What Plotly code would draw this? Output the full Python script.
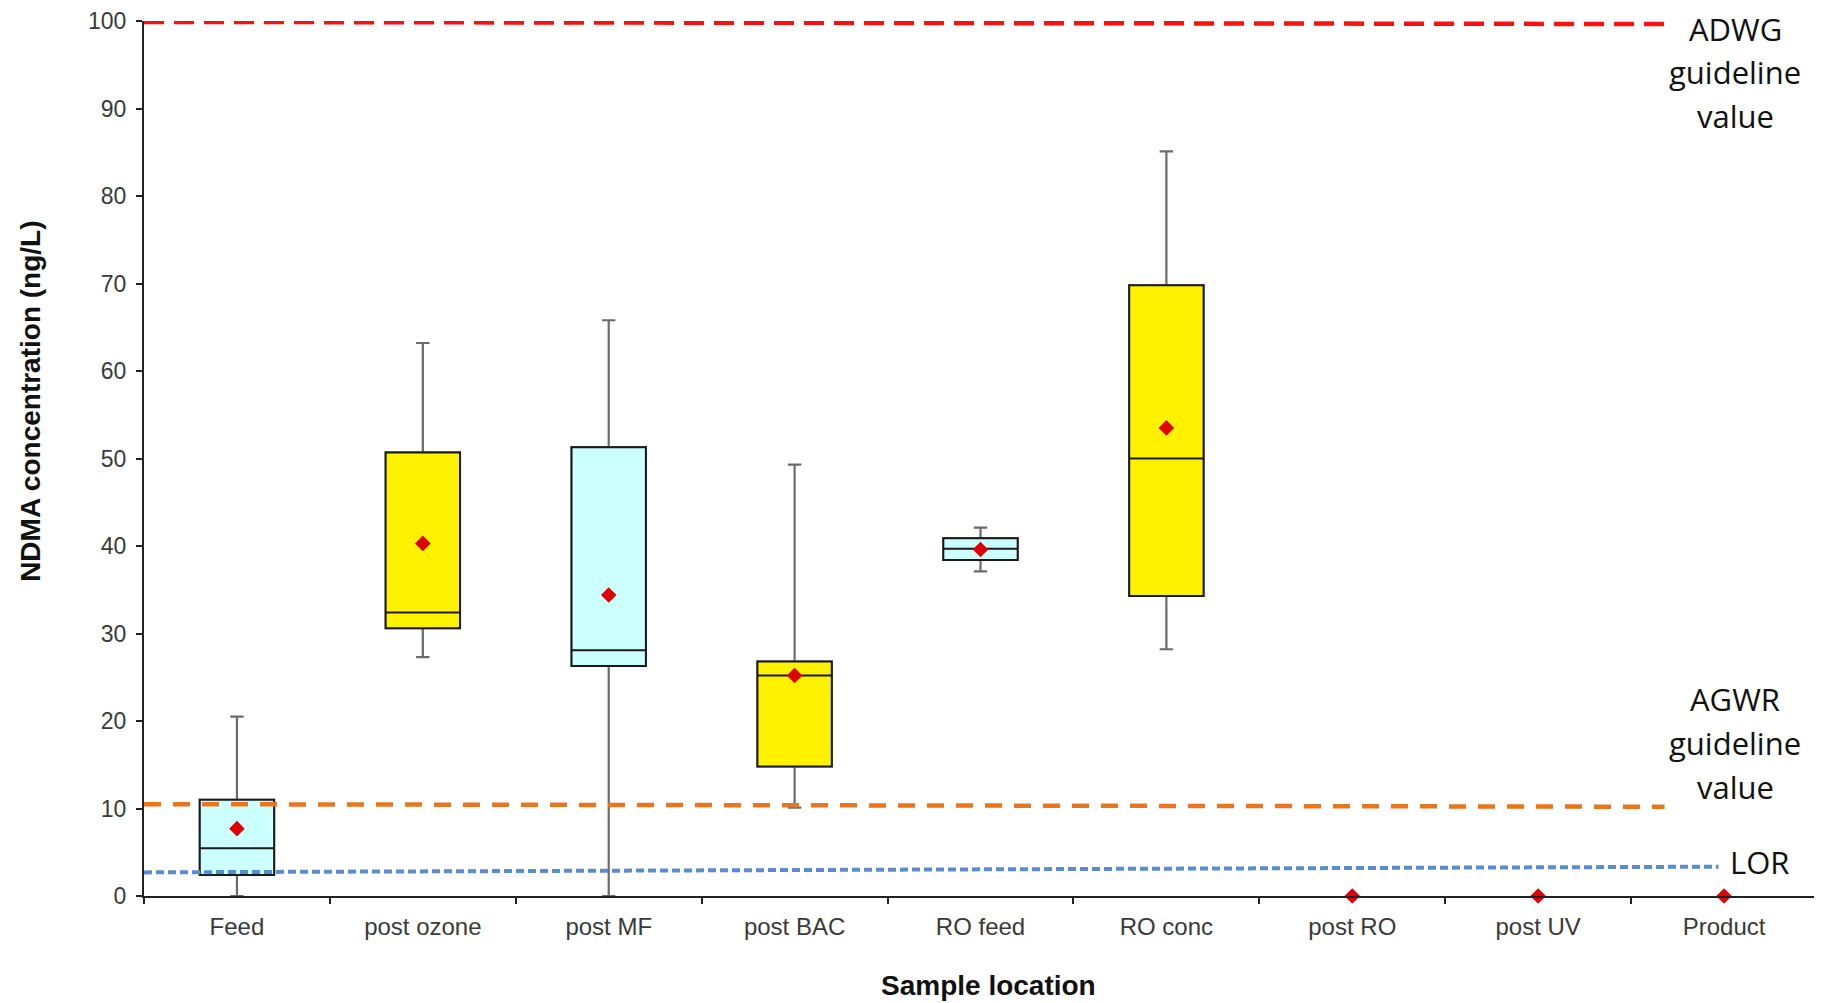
import plotly.graph_objects as go

# ---------------- data ----------------
categories = ["Feed", "post ozone", "post MF", "post BAC", "RO feed",
              "RO conc", "post RO", "post UV", "Product"]

box_cats   = ["Feed", "post ozone", "post MF", "post BAC", "RO feed", "RO conc"]
box_lower  = [0.0, 27.3, 0.0, 10.1, 37.1, 28.2]
box_q1     = [2.4, 30.6, 26.3, 14.8, 38.4, 34.3]
box_median = [5.45, 32.4, 28.1, 25.2, 39.7, 50.0]
box_q3     = [11.0, 50.7, 51.3, 26.8, 40.9, 69.8]
box_upper  = [20.5, 63.2, 65.8, 49.3, 42.1, 85.1]
box_colors = ["#CCFFFF", "#FFF200", "#CCFFFF", "#FFF200", "#CCFFFF", "#FFF200"]

mean_cats   = ["Feed", "post ozone", "post MF", "post BAC", "RO feed",
               "RO conc", "post RO", "post UV", "Product"]
mean_values = [7.7, 40.3, 34.4, 25.2, 39.6, 53.5, 0.0, 0.0, 0.0]

# guideline lines (hand drawn in the original: slight slope)
guide_names   = ["ADWG", "AGWR", "LOR"]
guide_y_start = [99.9, 10.5, 2.7]
guide_y_end   = [99.65, 10.2, 3.35]
guide_x_end   = [7.68, 7.68, 7.97]
guide_colors  = ["#FF1010", "#E8761E", "#5B8BD0"]
guide_dash    = ["20px,10px", "17px,12px", "8px,4px"]
guide_width   = [4.5, 4.5, 4]

# right-side labels
label_lines = ["ADWG", "guideline", "value", "AGWR", "guideline", "value", "LOR"]
label_x     = [8.06, 8.06, 8.06, 8.06, 8.06, 8.06, 8.19]
label_y     = [99.1, 94.2, 89.1, 22.5, 17.5, 12.5, 3.9]

y_ticks = list(range(0, 101, 10))

# ---------------- figure ----------------
fig = go.Figure()

y_tick_font = dict(family="Liberation Sans, Arial, sans-serif", size=23, color="#3a3a3a")
x_tick_font = dict(family="Liberation Sans, Arial, sans-serif", size=24, color="#3a3a3a")

for i, c in enumerate(box_cats):
    # whiskers (gray)
    fig.add_trace(go.Box(
        x=[c], q1=[box_q1[i]], median=[box_median[i]], q3=[box_q3[i]],
        lowerfence=[box_lower[i]], upperfence=[box_upper[i]],
        width=0.4, whiskerwidth=0.18, boxpoints=False,
        fillcolor=box_colors[i], line=dict(color="#6b6b6b", width=2.2),
        showlegend=False, hoverinfo="skip"))
    # box body (black outline)
    fig.add_trace(go.Box(
        x=[c], q1=[box_q1[i]], median=[box_median[i]], q3=[box_q3[i]],
        lowerfence=[box_q1[i]], upperfence=[box_q3[i]],
        width=0.4, whiskerwidth=0.0, boxpoints=False,
        fillcolor=box_colors[i], line=dict(color="#1a1a1a", width=2),
        showlegend=False))

fig.add_trace(go.Scatter(
    x=mean_cats, y=mean_values, mode="markers",
    marker=dict(symbol="diamond", size=12, color="#E00000"),
    cliponaxis=False, showlegend=False))

for i, n in enumerate(guide_names):
    fig.add_shape(type="line", xref="x", yref="y",
                  x0=-0.5, x1=guide_x_end[i], y0=guide_y_start[i], y1=guide_y_end[i],
                  line=dict(color=guide_colors[i], width=guide_width[i], dash=guide_dash[i]),
                  layer="above")

for t, x, y in zip(label_lines, label_x, label_y):
    fig.add_annotation(x=x, y=y, xref="x", yref="y", text=t, showarrow=False,
                       xanchor="center", yanchor="middle",
                       font=dict(family="Open Sans, sans-serif", size=31, color="#111111"))

# y-axis title (placed above centre, as in the original)
fig.add_annotation(x=-0.068, y=0.565, xref="paper", yref="paper",
                   text="<b>NDMA concentration (ng/L)</b>", textangle=-90,
                   showarrow=False, xanchor="center", yanchor="middle",
                   font=dict(family="Liberation Sans, Arial, sans-serif", size=28, color="#111111"))

# x-axis title (slightly right of centre, as in the original)
fig.add_annotation(x=0.505, y=-0.102, xref="paper", yref="paper",
                   text="<b>Sample location</b>",
                   showarrow=False, xanchor="center", yanchor="middle",
                   font=dict(family="Liberation Sans, Arial, sans-serif", size=28, color="#111111"))

fig.update_layout(
    width=1822, height=1003,
    margin=dict(l=136, r=13, t=13, b=115),
    paper_bgcolor="white", plot_bgcolor="white",
    boxmode="overlay",
    showlegend=False,
)

fig.update_xaxes(
    type="category", categoryorder="array", categoryarray=categories,
    range=[-0.5, 8.5], tickson="boundaries", automargin=False,
    showline=True, linecolor="#222222", linewidth=2,
    ticks="outside", ticklen=6, tickcolor="#222222", tickwidth=2,
    tickfont=x_tick_font, ticklabelstandoff=8,
    showgrid=False, zeroline=False,
)
fig.update_yaxes(
    range=[0, 100], tickvals=y_ticks, automargin=False,
    showline=True, linecolor="#222222", linewidth=2,
    ticks="outside", ticklen=6, tickcolor="#222222", tickwidth=2,
    tickfont=y_tick_font, ticklabelstandoff=5,
    showgrid=False, zeroline=False,
)

fig.write_html("out.html")
